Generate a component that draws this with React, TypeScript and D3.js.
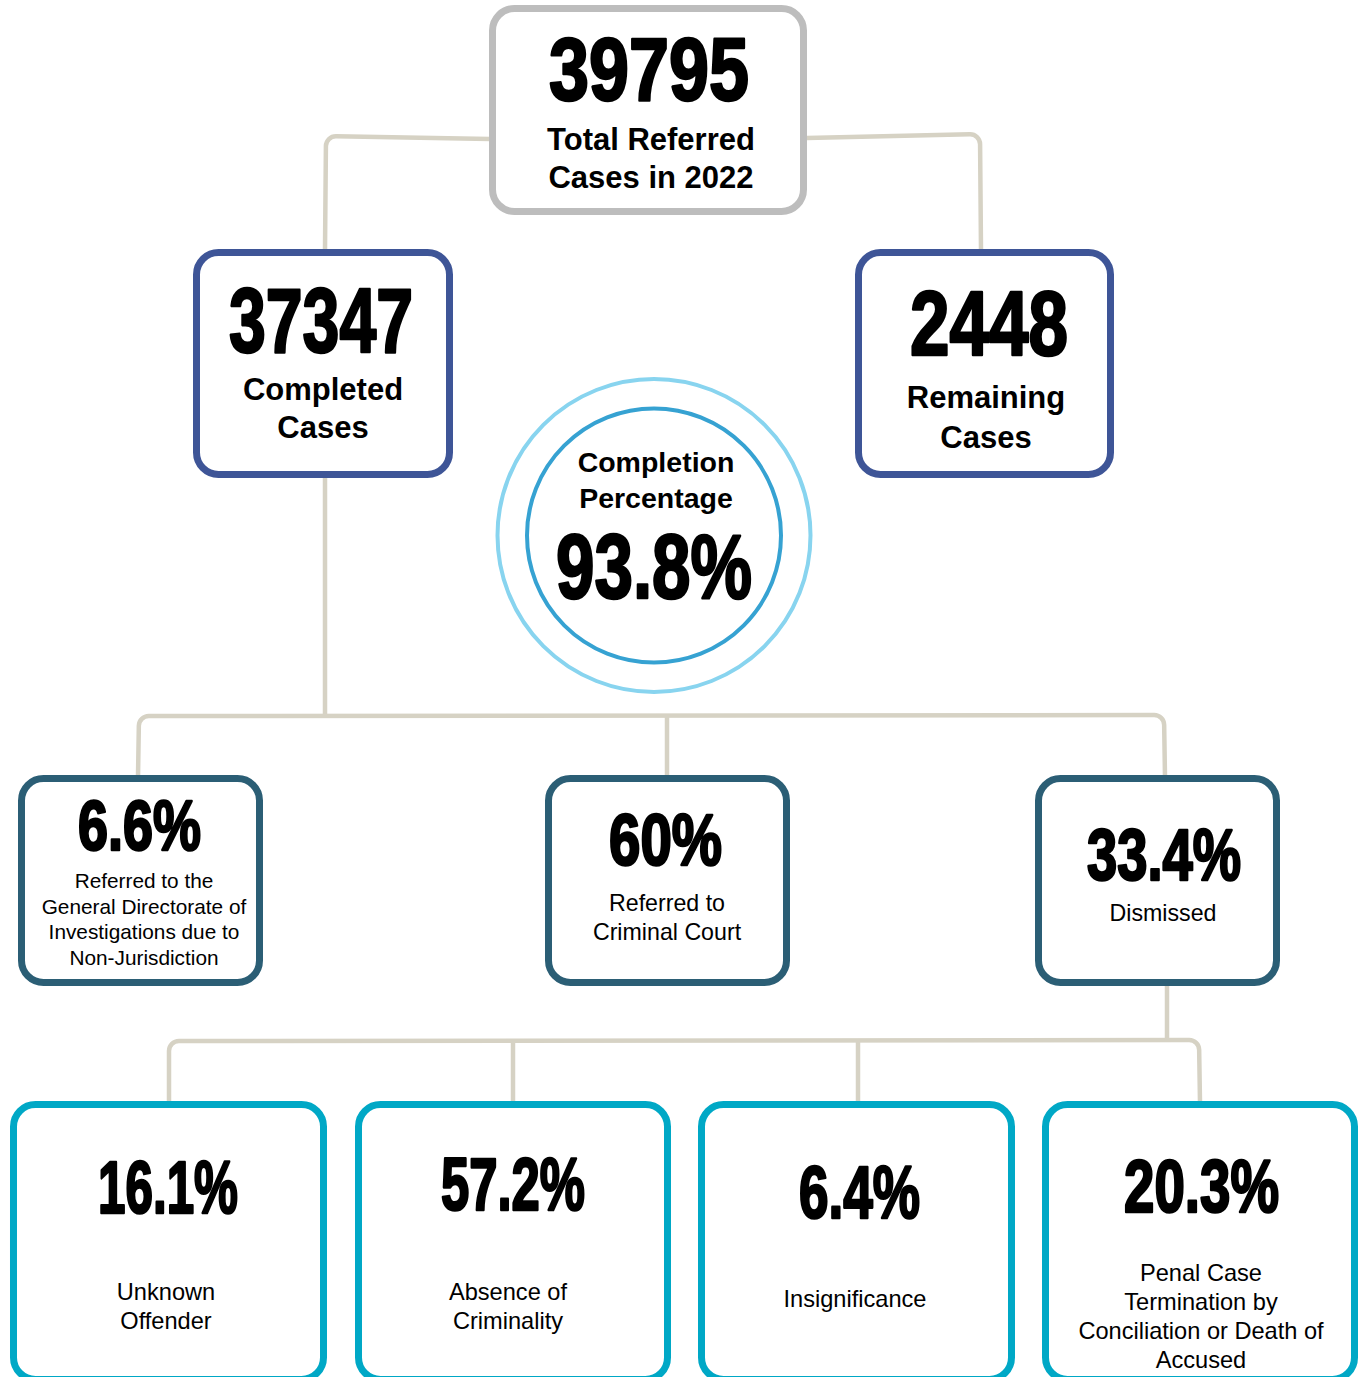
import React from "react";
import * as d3 from "d3";

// ---------- data ----------
const totalValue = "39795";
const totalLabel = ["Total Referred", "Cases in 2022"];
const level2Values = ["37347", "2448"];
const level2Labels = [["Completed", "Cases"], ["Remaining", "Cases"]];
const completionValue = "93.8%";
const completionLabel = ["Completion", "Percentage"];
const level3Values = ["6.6%", "60%", "33.4%"];
const level3Labels = [
  ["Referred to the", "General Directorate of", "Investigations due to", "Non-Jurisdiction"],
  ["Referred to", "Criminal Court"],
  ["Dismissed"],
];
const level4Values = ["16.1%", "57.2%", "6.4%", "20.3%"];
const level4Labels = [
  ["Unknown", "Offender"],
  ["Absence of", "Criminality"],
  ["Insignificance"],
  ["Penal Case", "Termination by", "Conciliation or Death of", "Accused"],
];

// ---------- styles ----------
const C_GRAY = "#bdbdbd";
const C_BLUE = "#3e5597";
const C_TEAL = "#2b5e75";
const C_CYAN = "#00a8c6";
const C_LINE = "#d6d2c4";
const C_RING_OUT = "#88d4ef";
const C_RING_IN = "#36a2d2";
const SANS = "'Liberation Sans', Arial, Helvetica, sans-serif";

type Box = {
  x: number; y: number; w: number; h: number; color: string;
  cx: number; numBase: number; numSize: number; numW: number;
  labBases: number[]; labSize: number; labBold: boolean;
  value: string; label: string[];
};

const boxes: Box[] = [
  { x: 492.5, y: 8.5, w: 311, h: 203, color: C_GRAY, cx: 649, numBase: 100, numSize: 89, numW: 200,
    labBases: [150, 188], labSize: 31, labBold: true, value: totalValue, label: totalLabel },
  { x: 196.5, y: 252.5, w: 253, h: 222, color: C_BLUE, cx: 321, numBase: 352, numSize: 91, numW: 184,
    labBases: [400, 438], labSize: 31, labBold: true, value: level2Values[0], label: level2Labels[0] },
  { x: 858.5, y: 252.5, w: 252, h: 222, color: C_BLUE, cx: 989, numBase: 355, numSize: 90, numW: 158,
    labBases: [408, 448], labSize: 31, labBold: true, value: level2Values[1], label: level2Labels[1] },
  { x: 21.5, y: 778.5, w: 238, h: 204, color: C_TEAL, cx: 139.5, numBase: 850, numSize: 70, numW: 123,
    labBases: [888, 914, 939, 965], labSize: 20.8, labBold: false, value: level3Values[0], label: level3Labels[0] },
  { x: 548.5, y: 778.5, w: 238, h: 204, color: C_TEAL, cx: 665.5, numBase: 865, numSize: 72, numW: 113,
    labBases: [911, 940], labSize: 23.2, labBold: false, value: level3Values[1], label: level3Labels[1] },
  { x: 1038.5, y: 778.5, w: 238, h: 204, color: C_TEAL, cx: 1164, numBase: 880, numSize: 72, numW: 154,
    labBases: [921], labSize: 23.2, labBold: false, value: level3Values[2], label: level3Labels[2] },
  { x: 13.5, y: 1104.5, w: 310, h: 275, color: C_CYAN, cx: 168, numBase: 1213, numSize: 74, numW: 140,
    labBases: [1300, 1329], labSize: 23.6, labBold: false, value: level4Values[0], label: level4Labels[0] },
  { x: 358.5, y: 1104.5, w: 309, h: 275, color: C_CYAN, cx: 513, numBase: 1210, numSize: 74, numW: 144,
    labBases: [1300, 1329], labSize: 23.6, labBold: false, value: level4Values[1], label: level4Labels[1] },
  { x: 701.5, y: 1104.5, w: 310, h: 275, color: C_CYAN, cx: 859.5, numBase: 1218, numSize: 74, numW: 121,
    labBases: [1307], labSize: 23.6, labBold: false, value: level4Values[2], label: level4Labels[2] },
  { x: 1045.5, y: 1104.5, w: 309, h: 275, color: C_CYAN, cx: 1201.5, numBase: 1212, numSize: 74, numW: 155,
    labBases: [1281, 1310, 1339, 1368], labSize: 23.6, labBold: false, value: level4Values[3], label: level4Labels[3] },
];

const labelCx = [651, 323, 986, 144, 667, 1163, 166, 508, 855, 1201];

// connector polylines with rounded corners
const connectors: [number, number][][] = [
  [[490, 139], [326, 136], [325, 250]],
  [[807, 138], [980, 134], [981, 250]],
  [[325, 478], [325, 716]],
  [[138, 777], [139, 716], [1164, 715], [1165, 777]],
  [[667, 715], [667, 777]],
  [[1167, 986], [1167, 1040]],
  [[169, 1103], [169, 1041], [1199, 1040], [1200, 1103]],
  [[513, 1040], [513, 1103]],
  [[858, 1040], [858, 1103]],
];

function connectorPath(pts: [number, number][], r = 10): string {
  const p = d3.path();
  p.moveTo(pts[0][0], pts[0][1]);
  for (let i = 1; i < pts.length - 1; i++) {
    p.arcTo(pts[i][0], pts[i][1], pts[i + 1][0], pts[i + 1][1], r);
  }
  const last = pts[pts.length - 1];
  p.lineTo(last[0], last[1]);
  return p.toString();
}

function BigNumber({ x, y, size, width, text }: { x: number; y: number; size: number; width: number; text: string }) {
  return (
    <text
      x={x - width / 2}
      y={y}
      fontFamily={SANS}
      fontWeight={700}
      fontSize={size}
      textLength={width}
      lengthAdjust="spacingAndGlyphs"
      fill="#000"
      stroke="#000"
      strokeWidth={2.6}
      strokeLinejoin="round"
    >
      {text}
    </text>
  );
}

export default function App() {
  const ringX = 654;
  const ringY = 535.5;
  return (
    <svg
      width={1360}
      height={1377}
      viewBox="0 0 1360 1377"
      style={{ position: "absolute", left: 0, top: 0, display: "block", background: "#fff" }}
    >
      <rect x={0} y={0} width={1360} height={1377} fill="#fff" />
      {connectors.map((c, i) => (
        <path key={i} d={connectorPath(c)} fill="none" stroke={C_LINE} strokeWidth={4.5} strokeLinecap="butt" />
      ))}

      {boxes.map((b, i) => (
        <g key={i}>
          <rect x={b.x} y={b.y} width={b.w} height={b.h} rx={22} ry={22} fill="#fff" stroke={b.color} strokeWidth={7} />
          <BigNumber x={b.cx} y={b.numBase} size={b.numSize} width={b.numW} text={b.value} />
          {b.label.map((l, j) => (
            <text
              key={j}
              x={labelCx[i]}
              y={b.labBases[j]}
              textAnchor="middle"
              fontFamily={SANS}
              fontWeight={b.labBold ? 700 : 400}
              fontSize={b.labSize}
              fill="#000"
            >
              {l}
            </text>
          ))}
        </g>
      ))}

      <circle cx={ringX} cy={ringY} r={156.5} fill="#fff" stroke={C_RING_OUT} strokeWidth={4} />
      <circle cx={ringX} cy={ringY} r={127} fill="#fff" stroke={C_RING_IN} strokeWidth={4} />
      {completionLabel.map((l, j) => (
        <text key={j} x={656} y={[472, 508][j]} textAnchor="middle" fontFamily={SANS} fontWeight={700} fontSize={28.5} fill="#000">
          {l}
        </text>
      ))}
      <BigNumber x={654} y={598} size={91} width={196} text={completionValue} />
    </svg>
  );
}
